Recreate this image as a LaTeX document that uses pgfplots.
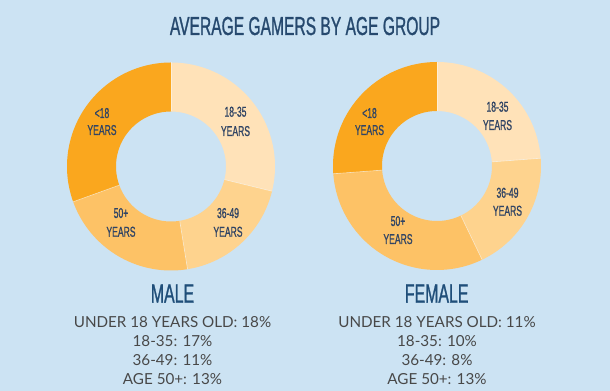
\documentclass[border=0pt]{standalone}
\usepackage{fontspec}
\setmainfont{Lato}
\newfontfamily\cond[FakeStretch=0.6, FakeBold=0.9]{Liberation Sans}
\usepackage{pgfplots}
\pgfplotsset{compat=1.18}
\usepackage{pgfplotstable}
\usepgfplotslibrary{fillbetween}
\pgfplotsset{/tikz/fill between/on layer=main}

\definecolor{bg}{RGB}{204,227,243}
\definecolor{cU}{RGB}{250,167,30}
\definecolor{cA}{RGB}{255,226,184}
\definecolor{cB}{RGB}{254,211,142}
\definecolor{cC}{RGB}{253,194,102}
\definecolor{titleblue}{RGB}{38,73,110}
\definecolor{labblue}{RGB}{48,68,100}
\definecolor{headblue}{RGB}{31,78,121}
\definecolor{stattext}{RGB}{72,72,72}

% values in clockwise order from 12 o'clock: 18-35, 36-49, 50+, <18
\pgfplotstableread{
group value
18-35 17
36-49 11
50+ 13
u18 18
}\maletable
\pgfplotstableread{
group value
18-35 10
36-49 8
50+ 13
u18 11
}\femaletable

\newcommand\Ro{104}
\newcommand\Ri{55}

% compute boundary angles from table #1, start 90 deg, clockwise
\newcommand\angles[2]{%
  \pgfplotstablegetelem{0}{value}\of#1\edef\vA{\pgfplotsretval}%
  \pgfplotstablegetelem{1}{value}\of#1\edef\vB{\pgfplotsretval}%
  \pgfplotstablegetelem{2}{value}\of#1\edef\vC{\pgfplotsretval}%
  \pgfplotstablegetelem{3}{value}\of#1\edef\vD{\pgfplotsretval}%
  \pgfmathsetmacro\vT{\vA+\vB+\vC+\vD}%
  \expandafter\xdef\csname #2a\endcsname{90}%
  \pgfmathsetmacro\tmp{90-360*\vA/\vT}\expandafter\xdef\csname #2b\endcsname{\tmp}%
  \pgfmathsetmacro\tmp{90-360*(\vA+\vB)/\vT}\expandafter\xdef\csname #2c\endcsname{\tmp}%
  \pgfmathsetmacro\tmp{90-360*(\vA+\vB+\vC)/\vT}\expandafter\xdef\csname #2d\endcsname{\tmp}%
  \expandafter\xdef\csname #2e\endcsname{-270}%
}

% segment: cx cy lo hi color id
\newcommand\seg[6]{%
  \addplot[draw=none, name path=o#6, domain=#3:#4, samples=70] ({#1+\Ro*cos(x)},{#2+\Ro*sin(x)});
  \addplot[draw=none, name path=i#6, domain=#3:#4, samples=70] ({#1+\Ri*cos(x)},{#2+\Ri*sin(x)});
  \addplot[fill=#5, draw=none] fill between[of=o#6 and i#6];
}
% separator: cx cy angle
\newcommand\sep[3]{%
  \addplot[white, opacity=0.55, line width=0.6pt, domain=\Ri:\Ro, samples=2] ({#1+x*cos(#3)},{#2+x*sin(#3)});
}
% two-line label: x y1 y2 text
\newcommand\lab[4]{%
  \node[anchor=base, text=labblue, font=\cond\fontsize{14.3bp}{16bp}\selectfont] at (axis cs:#1,#2) {#4};
  \node[anchor=base, text=labblue, font=\cond\fontsize{14.3bp}{16bp}\selectfont] at (axis cs:#1,#3) {YEARS};
}
\newcommand\stat[3]{%
  \node[anchor=base, text=stattext, font=\fontsize{15.2bp}{17bp}\selectfont] at (axis cs:#1,#2) {#3};
}

\begin{document}
\begin{tikzpicture}
\angles{\maletable}{M}
\angles{\femaletable}{F}
\fill[bg] (0,0) rectangle (610bp,391bp);
\begin{axis}[at={(0,0)}, anchor=south west, scale only axis,
  width=610bp, height=391bp, xmin=0, xmax=610, ymin=0, ymax=391,
  hide axis, clip=false]
% male donut
\seg{171}{224.5}{\Mb}{\Ma}{cA}{ma}
\seg{171}{224.5}{\Mc}{\Mb}{cB}{mb}
\seg{171}{224.5}{\Md}{\Mc}{cC}{mc}
\seg{171}{224.5}{\Me}{\Md}{cU}{md}
\sep{171}{224.5}{\Ma}
\sep{171}{224.5}{\Mb}
\sep{171}{224.5}{\Mc}
\sep{171}{224.5}{\Md}
% female donut
\seg{437}{225}{\Fb}{\Fa}{cA}{fa}
\seg{437}{225}{\Fc}{\Fb}{cB}{fb}
\seg{437}{225}{\Fd}{\Fc}{cC}{fc}
\seg{437}{225}{\Fe}{\Fd}{cU}{fd}
\sep{437}{225}{\Fa}
\sep{437}{225}{\Fb}
\sep{437}{225}{\Fc}
\sep{437}{225}{\Fd}
% title
\node[anchor=base, text=titleblue, font=\cond\fontsize{26bp}{30bp}\selectfont] at (axis cs:305,356) {AVERAGE GAMERS BY AGE GROUP};
% donut labels
\lab{102}{273}{256}{<18}
\lab{235.5}{274.3}{255}{18-35}
\lab{228}{173}{154.3}{36-49}
\lab{121}{173}{154.3}{50+}
\lab{369.5}{273}{256}{<18}
\lab{497.5}{279.3}{261}{18-35}
\lab{507.5}{193.3}{175.3}{36-49}
\lab{398}{165}{147}{50+}
% headings
\node[anchor=base, text=headblue, font=\cond\fontsize{26.5bp}{30bp}\selectfont] at (axis cs:172.5,88.3) {MALE};
\node[anchor=base, text=headblue, font=\cond\fontsize{26.5bp}{30bp}\selectfont] at (axis cs:436.7,88.3) {FEMALE};
% stats
\stat{172.5}{63.7}{UNDER 18 YEARS OLD: 18\%}
\stat{172.5}{44.3}{18-35: 17\%}
\stat{172.5}{25.3}{36-49: 11\%}
\stat{172.5}{7}{AGE 50+: 13\%}
\stat{437}{63.7}{UNDER 18 YEARS OLD: 11\%}
\stat{437}{44.3}{18-35: 10\%}
\stat{437}{25.3}{36-49: 8\%}
\stat{437}{7}{AGE 50+: 13\%}
\end{axis}
\end{tikzpicture}
\end{document}
